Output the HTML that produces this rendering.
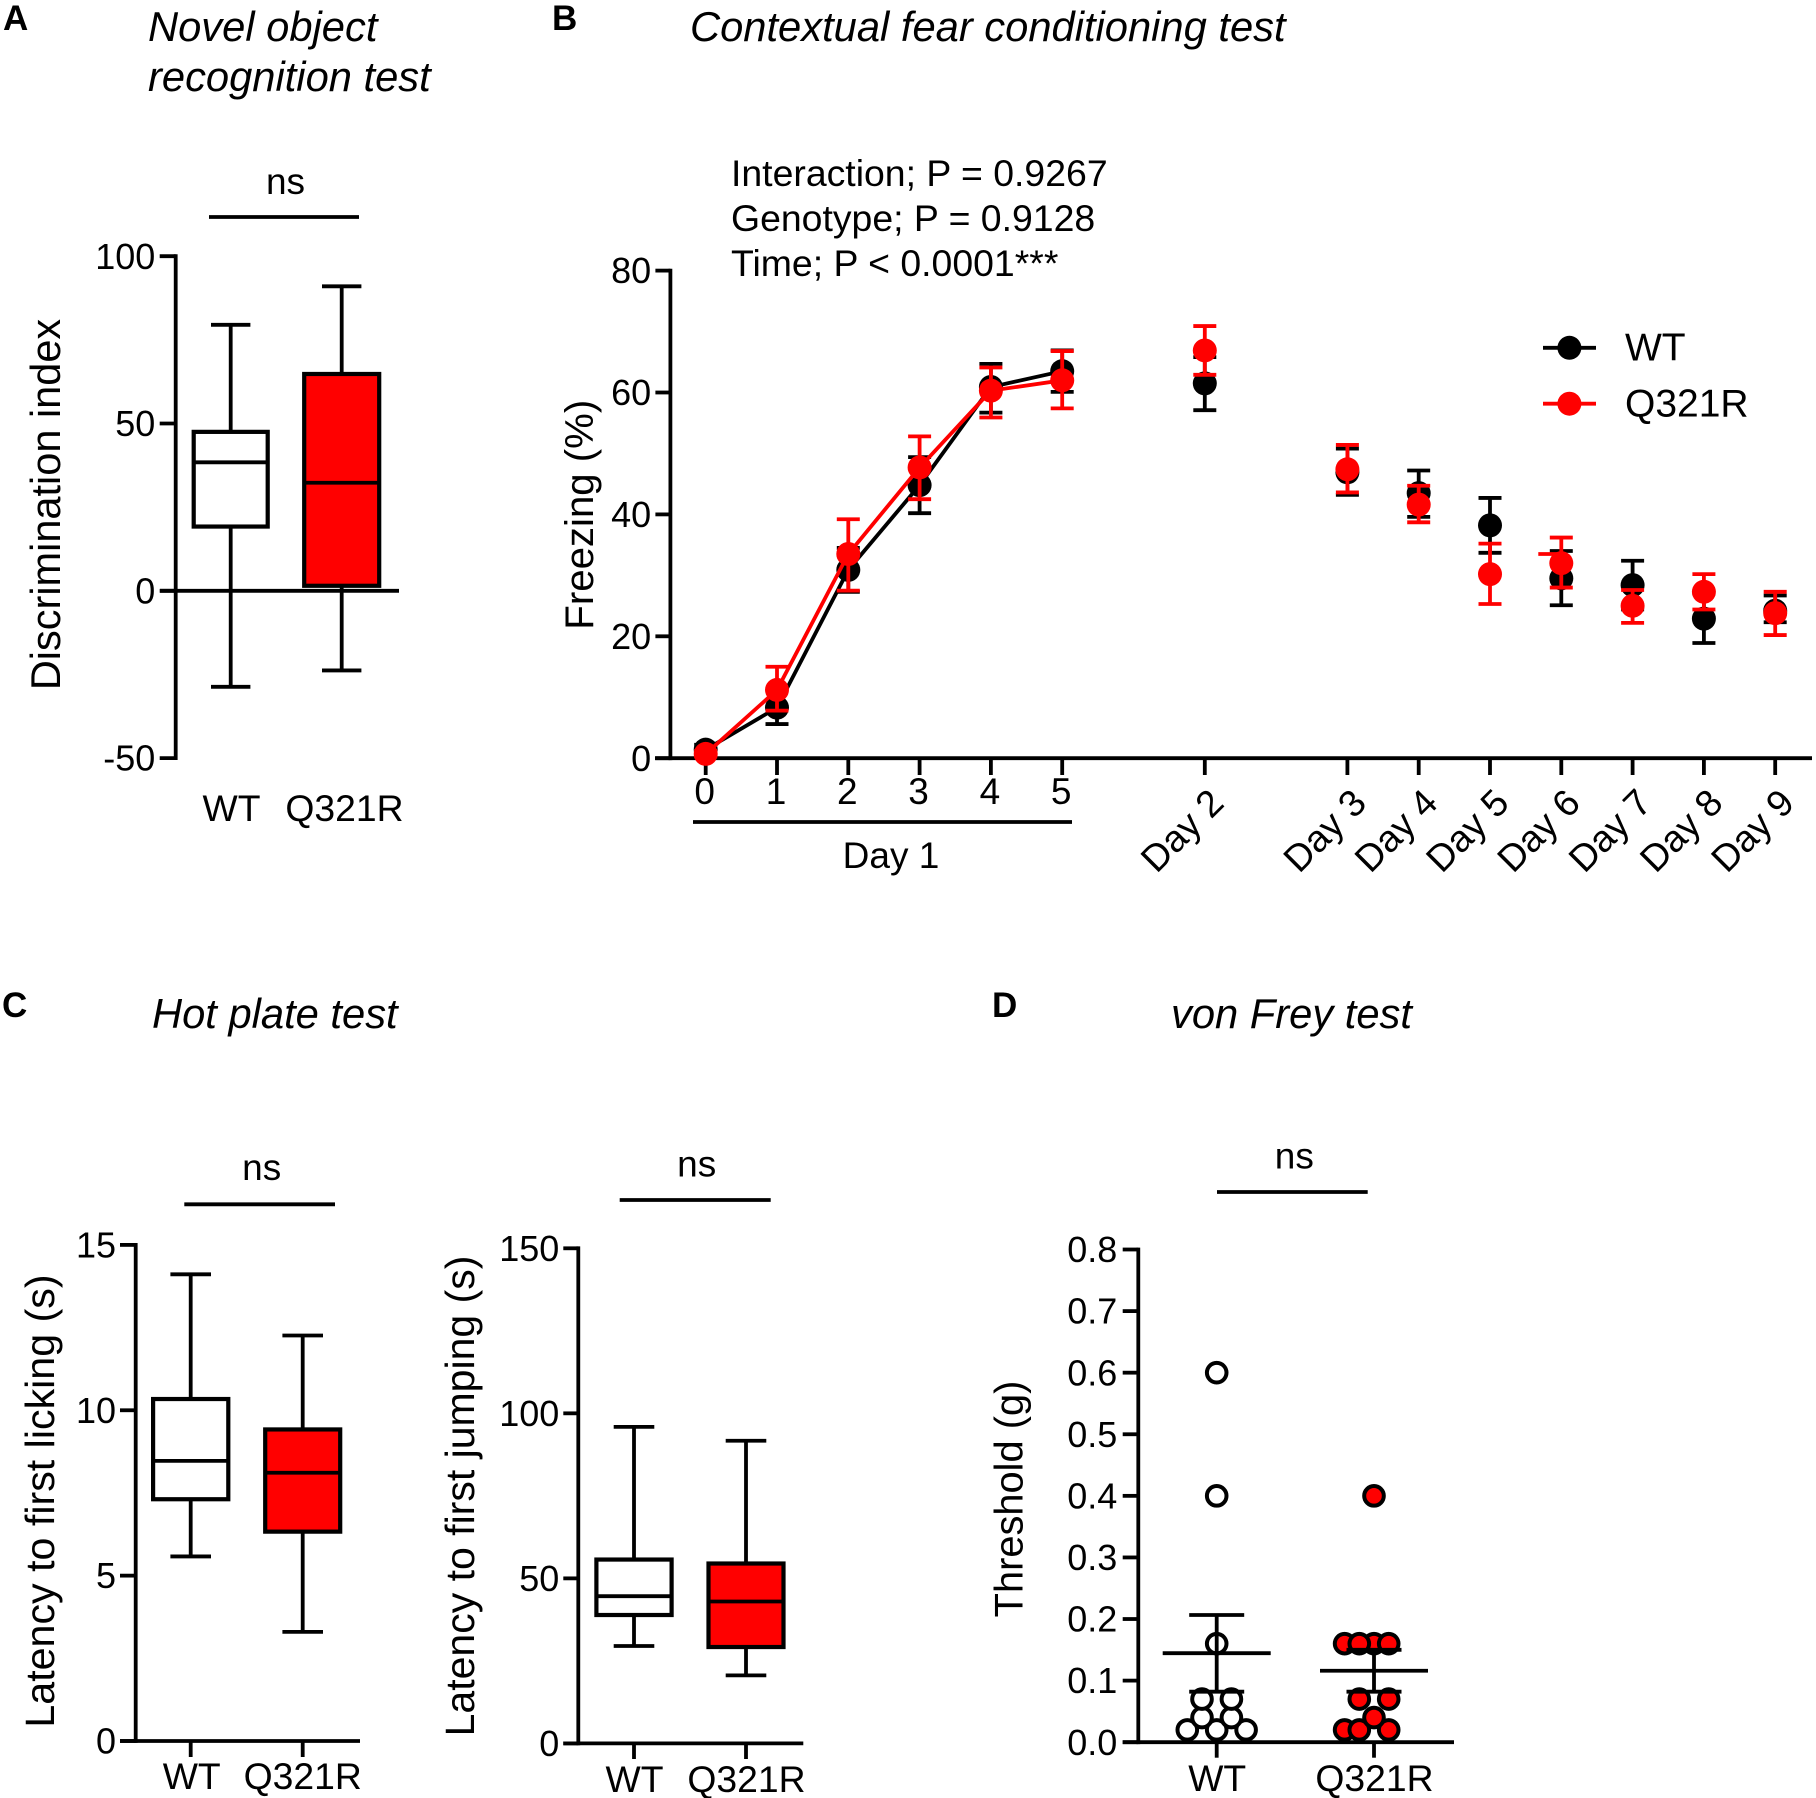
<!DOCTYPE html>
<html lang="en">
<head>
<meta charset="utf-8">
<title>Behavioural test panels</title>
<style>
  html, body { margin: 0; padding: 0; background: #fff; }
  svg { display: block; }
  text { font-family: "Liberation Sans", Arial, sans-serif; fill: #000; }
  .title { font-size: 41.7px; font-style: italic; }
  .letter { font-size: 35px; font-weight: bold; }
  .ytitle { text-anchor: middle; }
  .note { font-size: 37.4px; }
</style>
</head>
<body>
<svg id="figure" xmlns="http://www.w3.org/2000/svg" width="1816" height="1798" viewBox="0 0 1816 1798">
  <rect width="1816" height="1798" fill="#fff"/>

  <text class="letter" x="3" y="30">A</text>
  <text class="letter" x="552" y="30">B</text>
  <text class="letter" x="2" y="1017">C</text>
  <text class="letter" x="992" y="1017">D</text>

  <text class="title" x="148" y="41">Novel object</text>
  <text class="title" x="148" y="91">recognition test</text>
  <text class="title" x="690" y="41">Contextual fear conditioning test</text>
  <text class="title" x="152" y="1028">Hot plate test</text>
  <text class="title" x="1171" y="1028">von Frey test</text>

  <text class="ytitle" font-size="41.5" transform="translate(60 504.5) rotate(-90)">Discrimination index</text>
  <text class="ytitle" font-size="40.2" transform="translate(593 514.7) rotate(-90)">Freezing (%)</text>
  <text class="ytitle" font-size="41.2" transform="translate(54 1501) rotate(-90)">Latency to first licking (s)</text>
  <text class="ytitle" font-size="41" transform="translate(474 1496) rotate(-90)">Latency to first jumping (s)</text>
  <text class="ytitle" font-size="39.8" transform="translate(1022.7 1499) rotate(-90)">Threshold (g)</text>

  <text class="note" x="731" y="186">Interaction; P = 0.9267</text>
  <text class="note" x="731" y="231">Genotype; P = 0.9128</text>
  <text class="note" x="731" y="276">Time; P &lt; 0.0001***</text>

  <g id="chart-layer"></g>
</svg>

<script>
// ---------- Shared labels ----------
const genotypes = ['WT', 'Q321R'];
const genotypeFills = ['#ffffff', '#ff0000'];

// ---------- Panel A: box values are [min, q1, median, q3, max] ----------
const discriminationTicks = [100, 50, 0, -50];
const discriminationWT = [-28.7, 19.2, 38.4, 47.5, 79.5];
const discriminationQ321R = [-23.8, 1.5, 32.3, 64.8, 91];

// ---------- Panel C: box values ----------
const lickingTicks = [15, 10, 5, 0];
const lickingWT = [5.58, 7.31, 8.47, 10.34, 14.11];
const lickingQ321R = [3.3, 6.33, 8.11, 9.42, 12.26];
const jumpingTicks = [150, 100, 50, 0];
const jumpingWT = [29.5, 38.9, 44.6, 55.7, 95.9];
const jumpingQ321R = [20.6, 29.2, 43, 54.5, 91.7];

// ---------- Panel B: freezing ----------
const freezingTicks = [80, 60, 40, 20, 0];
const freezingLabels = ['0', '1', '2', '3', '4', '5', 'Day 2', 'Day 3', 'Day 4', 'Day 5', 'Day 6', 'Day 7', 'Day 8', 'Day 9'];
const freezingSlots = [0, 1, 2, 3, 4, 5, 7, 9, 10, 11, 12, 13, 14, 15];
const freezingWTMean = [1.4, 8.3, 30.9, 44.8, 60.9, 63.5, 61.5, 46.9, 43.5, 38.2, 29.5, 28.4, 22.9, 24.2];
const freezingWTUpper = [2.2, 11, 34.5, 49.4, 64.7, 66.9, 65.8, 50.8, 47.2, 42.7, 34, 32.4, 27, 26.7];
const freezingWTLower = [0.8, 5.6, 27.3, 40.2, 56.7, 60.1, 57.1, 43.2, 39.6, 33.7, 25.1, 24.4, 18.9, 22.3];
const freezingQ321RMean = [0.7, 11.2, 33.5, 47.7, 60.3, 62, 66.9, 47.4, 41.6, 30.2, 32, 25, 27.3, 23.8];
const freezingQ321RUpper = [1.2, 15, 39.2, 52.8, 64.1, 66.8, 70.9, 51.4, 44.7, 35.2, 36.2, 27.6, 30.2, 27.3];
const freezingQ321RLower = [0.3, 7.8, 27.5, 42.5, 55.9, 57.4, 62.9, 43.6, 38.7, 25.3, 28, 22.2, 24.4, 20.2];
const day1PointCount = 6;
const strayCapValue = 33.5;

// ---------- Panel D: von Frey ----------
const thresholdTicks = [0.8, 0.7, 0.6, 0.5, 0.4, 0.3, 0.2, 0.1, 0];
const thresholdWTValues = [0.02, 0.02, 0.02, 0.04, 0.04, 0.07, 0.07, 0.16, 0.4, 0.6];
const thresholdWTSwarmSlots = [-2, 0, 2, -1, 1, -1, 1, 0, 0, 0];
const thresholdQ321RValues = [0.02, 0.02, 0.02, 0.04, 0.07, 0.07, 0.16, 0.16, 0.16, 0.16, 0.4];
const thresholdQ321RSwarmSlots = [-2, 1, -1, 0, -1, 1, 0, -2, -1, 1, 0];
const thresholdMean = [0.1445, 0.116];
const thresholdUpper = [0.2065, 0.15];
const thresholdLower = [0.082, 0.082];

// ---------- Helpers ----------
const NS = 'http://www.w3.org/2000/svg';
const layer = document.getElementById('chart-layer');
const STROKE = 3.8;
const NO_KERN = { style: 'font-kerning:none' };

function node(tag, name, parent, props) {
  const el = document.createElementNS(NS, tag);
  
  
  for (const k in props) el.setAttribute(k, props[k]);
  (parent || layer).appendChild(el);
  return el;
}
function line(name, x1, y1, x2, y2, color, parent, w) {
  return node('line', name, parent, { x1, y1, x2, y2, stroke: color || '#000', 'stroke-width': w || STROKE });
}
function label(name, str, x, y, anchor, size, parent, extra) {
  const t = node('text', name, parent, Object.assign({ x, y, 'text-anchor': anchor, 'font-size': size || 37 }, extra || {}));
  t.textContent = str;
  return t;
}
function linear(d0, d1, r0, r1) {
  return v => r0 + (v - d0) * (r1 - r0) / (d1 - d0);
}
function yAxis(name, ticks, scale, axisX, tickLen, labelRight) {
  const g = node('g', name, layer, {});
  const ys = ticks.map(scale);
  line(name + '-line', axisX, Math.min(...ys) - STROKE / 2, axisX, Math.max(...ys) + STROKE / 2, '#000', g);
  ticks.forEach(t => {
    line(name + '-tick', axisX - tickLen, scale(t), axisX, scale(t), '#000', g);
    const txt = Number.isInteger(t) && ticks.some(v => v % 1 !== 0) ? t.toFixed(1) : String(t);
    label(name + '-tick-label', txt, labelRight, scale(t) + 12.6, 'end', 36, g);
  });
  return g;
}
function significance(name, cx, baseY, barY, x1, x2) {
  label(name + '-label', 'ns', cx, baseY, 'middle', 37);
  line(name + '-bar', x1, barY, x2, barY);
}
function boxPlot(name, stats, cx, halfW, capHalf, fill, y) {
  const g = node('g', name, layer, {});
  line(name + '-whisker', cx, y(stats[0]), cx, y(stats[4]), '#000', g);
  line(name + '-cap-low', cx - capHalf, y(stats[0]), cx + capHalf, y(stats[0]), '#000', g);
  line(name + '-cap-high', cx - capHalf, y(stats[4]), cx + capHalf, y(stats[4]), '#000', g);
  node('rect', name + '-box', g, {
    x: cx - halfW, y: y(stats[3]), width: halfW * 2, height: y(stats[1]) - y(stats[3]),
    fill: fill, stroke: '#000', 'stroke-width': 4.2
  });
  line(name + '-median', cx - halfW, y(stats[2]), cx + halfW, y(stats[2]), '#000', g);
}

// ---------- Panel A ----------
(function () {
  const y = linear(0, 100, 590.8, 256.2);
  const xs = [230.7, 341.7];
  boxPlot('discrimination-box-wt', discriminationWT, xs[0], 37, 19.7, genotypeFills[0], y);
  boxPlot('discrimination-box-q321r', discriminationQ321R, xs[1], 37.5, 19.7, genotypeFills[1], y);
  yAxis('discrimination-y-axis', discriminationTicks, y, 175.7, 16, 155.3);
  line('discrimination-x-axis', 160, y(0), 399, y(0));
  label('discrimination-x-label', genotypes[0], 231.5, 821, 'middle', 37.3, null, NO_KERN);
  label('discrimination-x-label', genotypes[1], 344.5, 821, 'middle', 37.3, null, NO_KERN);
  significance('discrimination-ns', 285.5, 194, 217, 209, 359);
})();

// ---------- Panel B ----------
(function () {
  const y = linear(0, 80, 758.2, 270.6);
  const x = linear(0, 15, 705.7, 1775.2);
  const colors = ['#000000', '#ff0000'];
  const means = [freezingWTMean, freezingQ321RMean];
  const uppers = [freezingWTUpper, freezingQ321RUpper];
  const lowers = [freezingWTLower, freezingQ321RLower];
  const keys = ['wt', 'q321r'];

  yAxis('freezing-y-axis', freezingTicks, y, 670.4, 15, 651.2);
  line('freezing-x-axis', 655, y(0), 1812, y(0));
  freezingSlots.forEach((s, i) => {
    line('freezing-x-tick', x(s), y(0), x(s), 775);
    if (i < day1PointCount) {
      label('freezing-x-label', freezingLabels[i], x(s) - 1, 804, 'middle');
    } else {
      const ax = x(s) + 21;
      label('freezing-x-label', freezingLabels[i], ax, 805, 'end', 37.5, null, { transform: 'rotate(-45 ' + ax + ' 805)' });
    }
  });
  line('day-1-bracket', 693, 822, 1072, 822);
  label('day-1-label', 'Day 1', 891, 868, 'middle');

  keys.forEach((k, si) => {
    const g = node('g', 'freezing-series-' + k, layer, {});
    const c = colors[si];
    const pts = freezingSlots.slice(0, day1PointCount).map((s, i) => x(s) + ',' + y(means[si][i])).join(' ');
    node('polyline', 'freezing-line-' + k, g, { points: pts, fill: 'none', stroke: c, 'stroke-width': STROKE });
    freezingSlots.forEach((s, i) => {
      const px = x(s);
      line('freezing-error-' + k, px, y(uppers[si][i]), px, y(lowers[si][i]), c, g);
      line('freezing-error-cap-' + k, px - 11.5, y(uppers[si][i]), px + 11.5, y(uppers[si][i]), c, g);
      line('freezing-error-cap-' + k, px - 11.5, y(lowers[si][i]), px + 11.5, y(lowers[si][i]), c, g);
      node('circle', 'freezing-point-' + k, g, { cx: px, cy: y(means[si][i]), r: 12, fill: c });
    });
  });
  line('day-6-stray-cap', x(12) - 23, y(strayCapValue), x(12), y(strayCapValue), '#ff0000');

  // legend
  const legendRows = [347.8, 403.7];
  const baselines = [360.5, 416.7];
  genotypes.forEach((n, i) => {
    const g = node('g', 'legend-entry-' + n.toLowerCase(), layer, {});
    line('legend-line', 1543, legendRows[i], 1596, legendRows[i], colors[i], g);
    node('circle', 'legend-marker', g, { cx: 1569.4, cy: legendRows[i], r: 12, fill: colors[i] });
    label('legend-label', n, 1625, baselines[i], 'start', 39, g, NO_KERN);
  });
})();

// ---------- Panel C left ----------
(function () {
  const y = linear(0, 15, 1741, 1244.9);
  const xs = [190.7, 302.7];
  boxPlot('licking-box-wt', lickingWT, xs[0], 37.6, 20.3, genotypeFills[0], y);
  boxPlot('licking-box-q321r', lickingQ321R, xs[1], 37.5, 20.3, genotypeFills[1], y);
  yAxis('licking-y-axis', lickingTicks, y, 135.7, 15.7, 116);
  line('licking-x-axis', 120, y(0), 360, y(0));
  xs.forEach((px, i) => {
    line('licking-x-tick', px, y(0), px, 1757);
    label('licking-x-label', genotypes[i], i ? px : px + 1, 1789, 'middle', 37.3, null, NO_KERN);
  });
  significance('licking-ns', 261.7, 1180, 1204.3, 184.3, 335);
})();

// ---------- Panel C right ----------
(function () {
  const y = linear(0, 150, 1743.4, 1248.3);
  const xs = [634, 746];
  boxPlot('jumping-box-wt', jumpingWT, xs[0], 37.6, 20.3, genotypeFills[0], y);
  boxPlot('jumping-box-q321r', jumpingQ321R, xs[1], 37.5, 20.3, genotypeFills[1], y);
  yAxis('jumping-y-axis', jumpingTicks, y, 578.3, 15, 559.3);
  line('jumping-x-axis', 563.3, y(0), 803.3, y(0));
  xs.forEach((px, i) => {
    line('jumping-x-tick', px, y(0), px, 1759);
    label('jumping-x-label', genotypes[i], px + 0.5, 1792, 'middle', 37.3, null, NO_KERN);
  });
  significance('jumping-ns', 696.7, 1176.5, 1200, 619.7, 770.7);
})();

// ---------- Panel D ----------
(function () {
  const y = linear(0, 0.8, 1742.2, 1249.5);
  const xs = [1216.7, 1374];
  const slotPx = 14.7;
  const valueSets = [thresholdWTValues, thresholdQ321RValues];
  const slotSets = [thresholdWTSwarmSlots, thresholdQ321RSwarmSlots];
  const keys = ['wt', 'q321r'];

  keys.forEach((k, si) => {
    const g = node('g', 'threshold-points-' + k, layer, {});
    valueSets[si].forEach((v, i) => {
      node('circle', 'threshold-point-' + k, g, {
        cx: xs[si] + slotSets[si][i] * slotPx, cy: y(v), r: 9.8,
        fill: genotypeFills[si], stroke: '#000', 'stroke-width': 4
      });
    });
  });
  keys.forEach((k, si) => {
    const g = node('g', 'threshold-summary-' + k, layer, {});
    const px = xs[si];
    line('threshold-error-' + k, px, y(thresholdUpper[si]), px, y(thresholdLower[si]), '#000', g);
    line('threshold-error-cap-' + k, px - 27.5, y(thresholdUpper[si]), px + 27.5, y(thresholdUpper[si]), '#000', g);
    line('threshold-error-cap-' + k, px - 27.5, y(thresholdLower[si]), px + 27.5, y(thresholdLower[si]), '#000', g);
    line('threshold-mean-' + k, px - 54, y(thresholdMean[si]), px + 54, y(thresholdMean[si]), '#000', g);
  });
  yAxis('threshold-y-axis', thresholdTicks, y, 1138.3, 15.6, 1117.3);
  line('threshold-x-axis', 1122.7, y(0), 1454, y(0));
  xs.forEach((px, i) => {
    line('threshold-x-tick', px, y(0), px, 1757.7);
    label('threshold-x-label', genotypes[i], px + 0.5, 1791, 'middle', 37.3, null, NO_KERN);
  });
  significance('threshold-ns', 1294.3, 1168.5, 1192, 1217, 1367.7);
})();
</script>
</body>
</html>
